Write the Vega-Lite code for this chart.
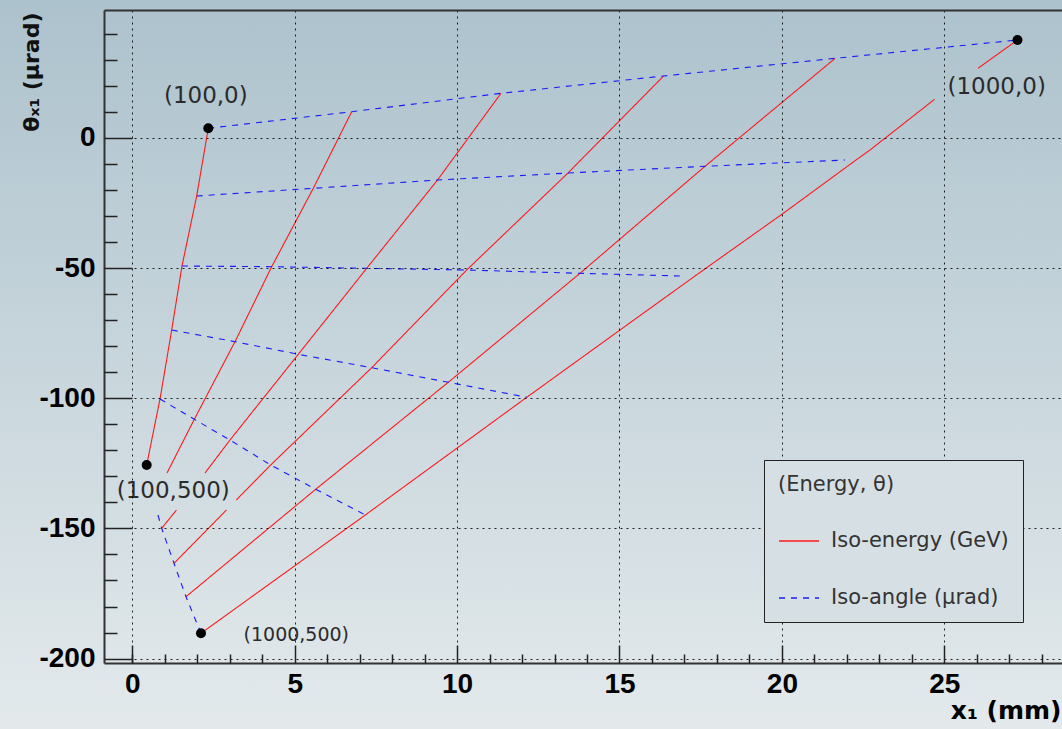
{
  "$schema": "https://vega.github.io/schema/vega-lite/v6.json",
  "width": 958,
  "height": 653,
  "autosize": {"type": "none"},
  "padding": {"left": 104, "top": 10, "right": 0, "bottom": 66},
  "background": "#c9d6dc",
  "config": {
    "view": {"stroke": null},
    "legend": {
      "titleFont": "DejaVu Sans", "titleFontSize": 21, "titleFontWeight": "normal", "titleColor": "#333",
      "titlePadding": 25, "titleLimit": 400,
      "labelFont": "DejaVu Sans", "labelFontSize": 21, "labelColor": "#333", "labelOffset": 11, "labelLimit": 400,
      "symbolType": "stroke", "symbolSize": 1600, "symbolStrokeWidth": 1.3,
      "rowPadding": 26, "padding": 14, "strokeColor": "#222", "fillColor": "#d6e0e4"
    }
  },
  "datasets": {
    "lines": [
      {"s": "e1", "type": "Iso-energy (GeV)", "o": 0, "x": 2.340, "y": 3.65},
      {"s": "e1", "type": "Iso-energy (GeV)", "o": 1, "x": 1.983, "y": -22.35},
      {"s": "e1", "type": "Iso-energy (GeV)", "o": 2, "x": 1.530, "y": -49.23},
      {"s": "e1", "type": "Iso-energy (GeV)", "o": 3, "x": 1.213, "y": -73.81},
      {"s": "e1", "type": "Iso-energy (GeV)", "o": 4, "x": 0.853, "y": -100.31},
      {"s": "e1", "type": "Iso-energy (GeV)", "o": 5, "x": 0.443, "y": -125.65},

      {"s": "e2", "type": "Iso-energy (GeV)", "o": 0, "x": 6.755, "y": 10.02},
      {"s": "e2", "type": "Iso-energy (GeV)", "o": 1, "x": 5.573, "y": -19.39},
      {"s": "e2", "type": "Iso-energy (GeV)", "o": 2, "x": 4.292, "y": -49.50},
      {"s": "e2", "type": "Iso-energy (GeV)", "o": 3, "x": 3.162, "y": -78.30},
      {"s": "e2", "type": "Iso-energy (GeV)", "o": 4, "x": 1.909, "y": -108.10},
      {"s": "e2", "type": "Iso-energy (GeV)", "o": 5, "x": 1.068, "y": -128.73},

      {"s": "e3a", "type": "Iso-energy (GeV)", "o": 0, "x": 11.352, "y": 17.09},
      {"s": "e3a", "type": "Iso-energy (GeV)", "o": 1, "x": 9.397, "y": -16.21},
      {"s": "e3a", "type": "Iso-energy (GeV)", "o": 2, "x": 7.217, "y": -50.12},
      {"s": "e3a", "type": "Iso-energy (GeV)", "o": 3, "x": 5.111, "y": -83.14},
      {"s": "e3a", "type": "Iso-energy (GeV)", "o": 4, "x": 3.008, "y": -116.05},
      {"s": "e3a", "type": "Iso-energy (GeV)", "o": 5, "x": 2.238, "y": -128.73},
      {"s": "e3b", "type": "Iso-energy (GeV)", "o": 0, "x": 1.361, "y": -142.93},
      {"s": "e3b", "type": "Iso-energy (GeV)", "o": 1, "x": 0.905, "y": -149.96},

      {"s": "e4a", "type": "Iso-energy (GeV)", "o": 0, "x": 16.358, "y": 23.73},
      {"s": "e4a", "type": "Iso-energy (GeV)", "o": 1, "x": 13.414, "y": -13.52},
      {"s": "e4a", "type": "Iso-energy (GeV)", "o": 2, "x": 10.296, "y": -50.77},
      {"s": "e4a", "type": "Iso-energy (GeV)", "o": 3, "x": 7.371, "y": -88.29},
      {"s": "e4a", "type": "Iso-energy (GeV)", "o": 4, "x": 4.261, "y": -125.65},
      {"s": "e4a", "type": "Iso-energy (GeV)", "o": 5, "x": 3.202, "y": -139.09},
      {"s": "e4b", "type": "Iso-energy (GeV)", "o": 0, "x": 2.900, "y": -142.93},
      {"s": "e4b", "type": "Iso-energy (GeV)", "o": 1, "x": 1.284, "y": -163.40},

      {"s": "e5", "type": "Iso-energy (GeV)", "o": 0, "x": 21.641, "y": 30.53},
      {"s": "e5", "type": "Iso-energy (GeV)", "o": 1, "x": 17.633, "y": -10.94},
      {"s": "e5", "type": "Iso-energy (GeV)", "o": 2, "x": 13.784, "y": -52.04},
      {"s": "e5", "type": "Iso-energy (GeV)", "o": 3, "x": 9.729, "y": -93.89},
      {"s": "e5", "type": "Iso-energy (GeV)", "o": 4, "x": 5.647, "y": -134.98},
      {"s": "e5", "type": "Iso-energy (GeV)", "o": 5, "x": 1.653, "y": -176.23},

      {"s": "e6a", "type": "Iso-energy (GeV)", "o": 0, "x": 27.254, "y": 37.56},
      {"s": "e6a", "type": "Iso-energy (GeV)", "o": 1, "x": 26.038, "y": 26.69},
      {"s": "e6b", "type": "Iso-energy (GeV)", "o": 0, "x": 24.701, "y": 14.78},
      {"s": "e6b", "type": "Iso-energy (GeV)", "o": 1, "x": 22.712, "y": -4.69},
      {"s": "e6b", "type": "Iso-energy (GeV)", "o": 2, "x": 22.282, "y": -8.53},
      {"s": "e6b", "type": "Iso-energy (GeV)", "o": 3, "x": 20.043, "y": -28.99},
      {"s": "e6b", "type": "Iso-energy (GeV)", "o": 4, "x": 17.325, "y": -53.07},
      {"s": "e6b", "type": "Iso-energy (GeV)", "o": 5, "x": 15.016, "y": -73.81},
      {"s": "e6b", "type": "Iso-energy (GeV)", "o": 6, "x": 12.146, "y": -99.65},
      {"s": "e6b", "type": "Iso-energy (GeV)", "o": 7, "x": 7.174, "y": -144.85},
      {"s": "e6b", "type": "Iso-energy (GeV)", "o": 8, "x": 2.115, "y": -190.28},

      {"s": "a0", "type": "Iso-angle (µrad)", "o": 0, "x": 2.340, "y": 3.65},
      {"s": "a0", "type": "Iso-angle (µrad)", "o": 1, "x": 6.755, "y": 10.02},
      {"s": "a0", "type": "Iso-angle (µrad)", "o": 2, "x": 11.352, "y": 17.09},
      {"s": "a0", "type": "Iso-angle (µrad)", "o": 3, "x": 16.358, "y": 23.73},
      {"s": "a0", "type": "Iso-angle (µrad)", "o": 4, "x": 21.641, "y": 30.53},
      {"s": "a0", "type": "Iso-angle (µrad)", "o": 5, "x": 27.254, "y": 37.56},

      {"s": "a100", "type": "Iso-angle (µrad)", "o": 0, "x": 1.983, "y": -22.35},
      {"s": "a100", "type": "Iso-angle (µrad)", "o": 1, "x": 5.573, "y": -19.39},
      {"s": "a100", "type": "Iso-angle (µrad)", "o": 2, "x": 9.397, "y": -16.21},
      {"s": "a100", "type": "Iso-angle (µrad)", "o": 3, "x": 13.414, "y": -13.52},
      {"s": "a100", "type": "Iso-angle (µrad)", "o": 4, "x": 17.633, "y": -10.94},
      {"s": "a100", "type": "Iso-angle (µrad)", "o": 5, "x": 21.942, "y": -8.53},

      {"s": "a200", "type": "Iso-angle (µrad)", "o": 0, "x": 1.530, "y": -49.23},
      {"s": "a200", "type": "Iso-angle (µrad)", "o": 1, "x": 4.292, "y": -49.50},
      {"s": "a200", "type": "Iso-angle (µrad)", "o": 2, "x": 7.217, "y": -50.12},
      {"s": "a200", "type": "Iso-angle (µrad)", "o": 3, "x": 10.296, "y": -50.77},
      {"s": "a200", "type": "Iso-angle (µrad)", "o": 4, "x": 13.784, "y": -52.04},
      {"s": "a200", "type": "Iso-angle (µrad)", "o": 5, "x": 16.862, "y": -53.07},

      {"s": "a300", "type": "Iso-angle (µrad)", "o": 0, "x": 1.213, "y": -73.81},
      {"s": "a300", "type": "Iso-angle (µrad)", "o": 1, "x": 3.162, "y": -78.30},
      {"s": "a300", "type": "Iso-angle (µrad)", "o": 2, "x": 5.111, "y": -83.14},
      {"s": "a300", "type": "Iso-angle (µrad)", "o": 3, "x": 7.371, "y": -88.29},
      {"s": "a300", "type": "Iso-angle (µrad)", "o": 4, "x": 9.729, "y": -93.89},
      {"s": "a300", "type": "Iso-angle (µrad)", "o": 5, "x": 12.146, "y": -99.65},

      {"s": "a400", "type": "Iso-angle (µrad)", "o": 0, "x": 0.853, "y": -100.31},
      {"s": "a400", "type": "Iso-angle (µrad)", "o": 1, "x": 1.909, "y": -108.10},
      {"s": "a400", "type": "Iso-angle (µrad)", "o": 2, "x": 3.008, "y": -116.05},
      {"s": "a400", "type": "Iso-angle (µrad)", "o": 3, "x": 4.261, "y": -125.65},
      {"s": "a400", "type": "Iso-angle (µrad)", "o": 4, "x": 5.647, "y": -134.98},
      {"s": "a400", "type": "Iso-angle (µrad)", "o": 5, "x": 7.174, "y": -144.85},

      {"s": "a500", "type": "Iso-angle (µrad)", "o": 0, "x": 0.791, "y": -144.85},
      {"s": "a500", "type": "Iso-angle (µrad)", "o": 1, "x": 0.905, "y": -149.96},
      {"s": "a500", "type": "Iso-angle (µrad)", "o": 2, "x": 1.284, "y": -163.40},
      {"s": "a500", "type": "Iso-angle (µrad)", "o": 3, "x": 1.653, "y": -176.23},
      {"s": "a500", "type": "Iso-angle (µrad)", "o": 4, "x": 2.115, "y": -190.28}
    ],
    "dots": [
      {"x": 2.340, "y": 3.65},
      {"x": 27.254, "y": 37.56},
      {"x": 0.443, "y": -125.65},
      {"x": 2.115, "y": -190.28}
    ],
    "labels": [
      {"label": "(100,0)", "x": 2.263, "y": 16.05},
      {"label": "(1000,0)", "x": 26.613, "y": 19.62},
      {"label": "(100,500)", "x": 1.262, "y": -135.56},
      {"label": "(1000,500)", "x": 5.049, "y": -190.94}
    ]
  },
  "resolve": {"axis": {"x": "independent", "y": "independent"}},
  "layer": [
    {
      "data": {"values": [{}]},
      "mark": {
        "type": "rect",
        "clip": false,
        "strokeWidth": 0,
        "fill": {
          "gradient": "linear", "x1": 0, "y1": 0, "x2": 0, "y2": 1,
          "stops": [{"offset": 0, "color": "#abc1cc"}, {"offset": 1, "color": "#e4eaec"}]
        }
      },
      "encoding": {
        "x": {
          "datum": -5, "type": "quantitative",
          "scale": {"domain": [-0.871, 28.624], "nice": false, "zero": false},
          "axis": {
            "orient": "bottom", "values": [0, 5, 10, 15, 20, 25], "ticks": false,
            "labelFont": "Liberation Sans", "labelFontWeight": "bold", "labelFontSize": 28, "labelColor": "#000",
            "labelPadding": 7, "labelFlush": false, "labelOverlap": false,
            "grid": true, "gridColor": "#000", "gridDash": [2, 4], "gridWidth": 1, "gridOpacity": 0.85,
            "domain": true, "domainColor": "#333", "domainWidth": 2,
            "title": "x₁ (mm)", "titleFont": "DejaVu Sans", "titleFontSize": 25, "titleFontWeight": "bold", "titleColor": "#000",
            "titleAnchor": "end", "titleAlign": "right", "titleBaseline": "alphabetic", "titleX": 957, "titleY": 55.5,
            "zindex": 1
          }
        },
        "x2": {"datum": 30},
        "y": {
          "datum": 60, "type": "quantitative",
          "scale": {"domain": [-201.69, 49.08], "nice": false, "zero": false},
          "axis": {
            "orient": "left", "values": [-200, -150, -100, -50, 0], "ticks": false,
            "labelExpr": "datum.value < 0 ? '-' + abs(datum.value) : '' + datum.value",
            "labelFont": "Liberation Sans", "labelFontWeight": "bold", "labelFontSize": 28, "labelColor": "#000",
            "labelPadding": 9, "labelFlush": false, "labelOverlap": false,
            "grid": true, "gridColor": "#000", "gridDash": [2, 4], "gridWidth": 1, "gridOpacity": 0.85,
            "domain": true, "domainColor": "#333", "domainWidth": 2,
            "title": "θₓ₁ (µrad)", "titleFont": "DejaVu Sans", "titleFontSize": 22, "titleFontWeight": "bold", "titleColor": "#111",
            "titleAngle": 270, "titleAlign": "right", "titleBaseline": "alphabetic", "titleX": -66, "titleY": 2,
            "zindex": 1
          }
        },
        "y2": {"datum": -230}
      }
    },
    {
      "data": {"name": "lines"},
      "mark": {"type": "line", "strokeWidth": 1.1},
      "encoding": {
        "x": {
          "field": "x", "type": "quantitative",
          "scale": {"domain": [-0.871, 28.624], "nice": false, "zero": false},
          "axis": {
            "orient": "bottom", "values": [0, 5, 10, 15, 20, 25], "ticks": true, "tickSize": -18,
            "tickColor": "#222", "tickWidth": 1.5, "labels": false, "domain": false, "grid": false, "title": null, "zindex": 1
          }
        },
        "y": {
          "field": "y", "type": "quantitative",
          "scale": {"domain": [-201.69, 49.08], "nice": false, "zero": false},
          "axis": {
            "orient": "left", "values": [-200, -150, -100, -50, 0], "ticks": true, "tickSize": -28,
            "tickColor": "#222", "tickWidth": 1.5, "labels": false, "domain": false, "grid": false, "title": null, "zindex": 1
          }
        },
        "color": {
          "field": "type", "type": "nominal",
          "scale": {"domain": ["Iso-energy (GeV)", "Iso-angle (µrad)"], "range": ["#ff1a1a", "#1a1aff"]},
          "legend": {"title": "(Energy, θ)", "orient": "none", "legendX": 660, "legendY": 450, "zindex": 2}
        },
        "strokeDash": {
          "field": "type", "type": "nominal",
          "scale": {"domain": ["Iso-energy (GeV)", "Iso-angle (µrad)"], "range": [[1, 0], [6, 6]]},
          "legend": {"title": "(Energy, θ)", "orient": "none", "legendX": 660, "legendY": 450, "zindex": 2}
        },
        "detail": {"field": "s", "type": "nominal"},
        "order": {"field": "o", "type": "quantitative"}
      }
    },
    {
      "data": {"name": "dots"},
      "mark": {"type": "point", "filled": true, "color": "#000", "opacity": 1, "size": 100},
      "encoding": {
        "x": {
          "field": "x", "type": "quantitative",
          "scale": {"domain": [-0.871, 28.624], "nice": false, "zero": false},
          "axis": {
            "orient": "bottom",
            "values": [0, 1, 2, 3, 4, 6, 7, 8, 9, 11, 12, 13, 14, 16, 17, 18, 19, 21, 22, 23, 24, 26, 27, 28],
            "ticks": true, "tickSize": -9, "tickColor": "#222", "tickWidth": 1.5,
            "labels": false, "domain": false, "grid": false, "title": null, "zindex": 1
          }
        },
        "y": {
          "field": "y", "type": "quantitative",
          "scale": {"domain": [-201.69, 49.08], "nice": false, "zero": false},
          "axis": {
            "orient": "left",
            "values": [-190, -180, -170, -160, -140, -130, -120, -110, -90, -80, -70, -60, -40, -30, -20, -10, 10, 20, 30, 40],
            "ticks": true, "tickSize": -13, "tickColor": "#222", "tickWidth": 1.5,
            "labels": false, "domain": false, "grid": false, "title": null, "zindex": 1
          }
        }
      }
    },
    {
      "data": {"name": "labels"},
      "mark": {"type": "text", "font": "DejaVu Sans", "color": "#2b2b2b", "align": "center", "baseline": "middle"},
      "encoding": {
        "x": {
          "field": "x", "type": "quantitative",
          "scale": {"domain": [-0.871, 28.624], "nice": false, "zero": false},
          "axis": {
            "orient": "top", "ticks": false, "labels": false, "grid": false, "title": null,
            "domain": true, "domainColor": "#333", "domainWidth": 2, "zindex": 1
          }
        },
        "y": {
          "field": "y", "type": "quantitative",
          "scale": {"domain": [-201.69, 49.08], "nice": false, "zero": false},
          "axis": null
        },
        "text": {"field": "label", "type": "nominal"},
        "size": {"condition": {"test": "datum.label === '(1000,500)'", "value": 19}, "value": 23}
      }
    }
  ]
}
